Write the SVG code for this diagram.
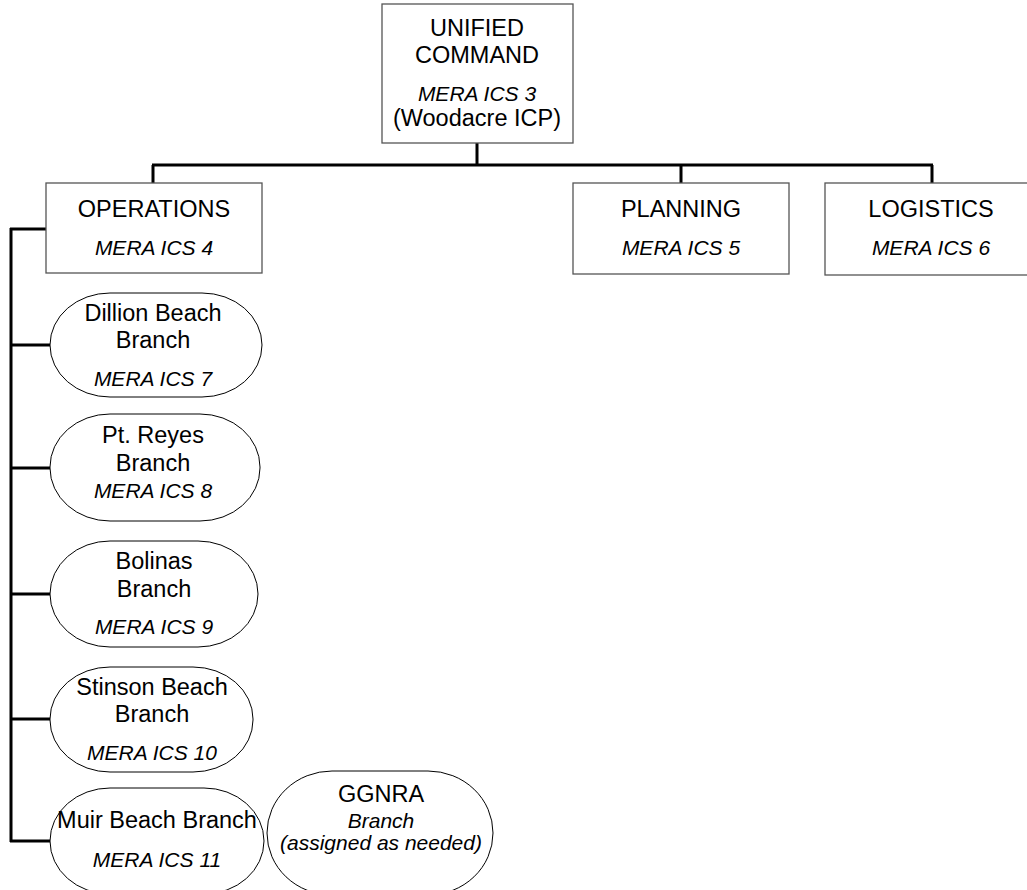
<svg xmlns="http://www.w3.org/2000/svg" width="1027" height="890" viewBox="0 0 1027 890">
<style>
.box{fill:#fff;stroke:#555;stroke-width:1.3}
.oval{fill:#fff;stroke:#000;stroke-width:1}
.t{font-family:"Liberation Sans",Arial,sans-serif;font-size:23.5px;fill:#000;text-anchor:middle}
.i{font-family:"Liberation Sans",Arial,sans-serif;font-size:21px;font-style:italic;fill:#000;text-anchor:middle}
.c{fill:none;stroke:#000;stroke-width:3}
</style>
<rect width="1027" height="890" fill="#fff"/>
<g id="connectors">
<path class="c" d="M477,143 V165 M152,165 H933 M153,165 V183 M681,165 V183 M932,165 V183"/>
<path class="c" d="M11,228 V842 M10,229 H46 M11,345 H50 M11,468 H50 M11,594 H50 M11,719 H50 M10,841 H50"/>
</g>
<g id="unified">
<rect class="box" x="382" y="4" width="191" height="139"/>
<text class="t" x="477" y="36">UNIFIED</text>
<text class="t" x="477" y="63">COMMAND</text>
<text class="i" x="477" y="101">MERA ICS 3</text>
<text class="t" x="477" y="126">(Woodacre ICP)</text>
</g>
<g id="operations">
<rect class="box" x="46" y="183" width="216" height="90"/>
<text class="t" x="154" y="217">OPERATIONS</text>
<text class="i" x="154" y="255">MERA ICS 4</text>
</g>
<g id="planning">
<rect class="box" x="573" y="183" width="216" height="91"/>
<text class="t" x="681" y="217">PLANNING</text>
<text class="i" x="681" y="255">MERA ICS 5</text>
</g>
<g id="logistics">
<rect class="box" x="825" y="183" width="211" height="92"/>
<text class="t" x="931" y="217">LOGISTICS</text>
<text class="i" x="931" y="255">MERA ICS 6</text>
</g>
<g id="dillion">
<rect class="oval" x="50" y="293" width="212" height="104" rx="60" ry="52"/>
<text class="t" x="153" y="321">Dillion Beach</text>
<text class="t" x="153" y="348">Branch</text>
<text class="i" x="153" y="386">MERA ICS 7</text>
</g>
<g id="ptreyes">
<rect class="oval" x="50" y="414" width="210" height="107" rx="60" ry="53"/>
<text class="t" x="153" y="443">Pt. Reyes</text>
<text class="t" x="153" y="471">Branch</text>
<text class="i" x="153" y="498">MERA ICS 8</text>
</g>
<g id="bolinas">
<rect class="oval" x="50" y="541" width="208" height="106" rx="60" ry="53"/>
<text class="t" x="154" y="569">Bolinas</text>
<text class="t" x="154" y="597">Branch</text>
<text class="i" x="154" y="634">MERA ICS 9</text>
</g>
<g id="stinson">
<rect class="oval" x="50" y="667" width="203" height="105" rx="60" ry="52"/>
<text class="t" x="152" y="695">Stinson Beach</text>
<text class="t" x="152" y="722">Branch</text>
<text class="i" x="152" y="760">MERA ICS 10</text>
</g>
<g id="muir">
<rect class="oval" x="50" y="788" width="214" height="106" rx="60" ry="53"/>
<text class="t" x="157" y="828">Muir Beach Branch</text>
<text class="i" x="157" y="867">MERA ICS 11</text>
</g>
<g id="ggnra">
<rect class="oval" x="267" y="771" width="226" height="124" rx="65" ry="62"/>
<text class="t" x="381" y="802">GGNRA</text>
<text class="i" x="381" y="828">Branch</text>
<text class="i" x="381" y="850">(assigned as needed)</text>
</g>
</svg>
